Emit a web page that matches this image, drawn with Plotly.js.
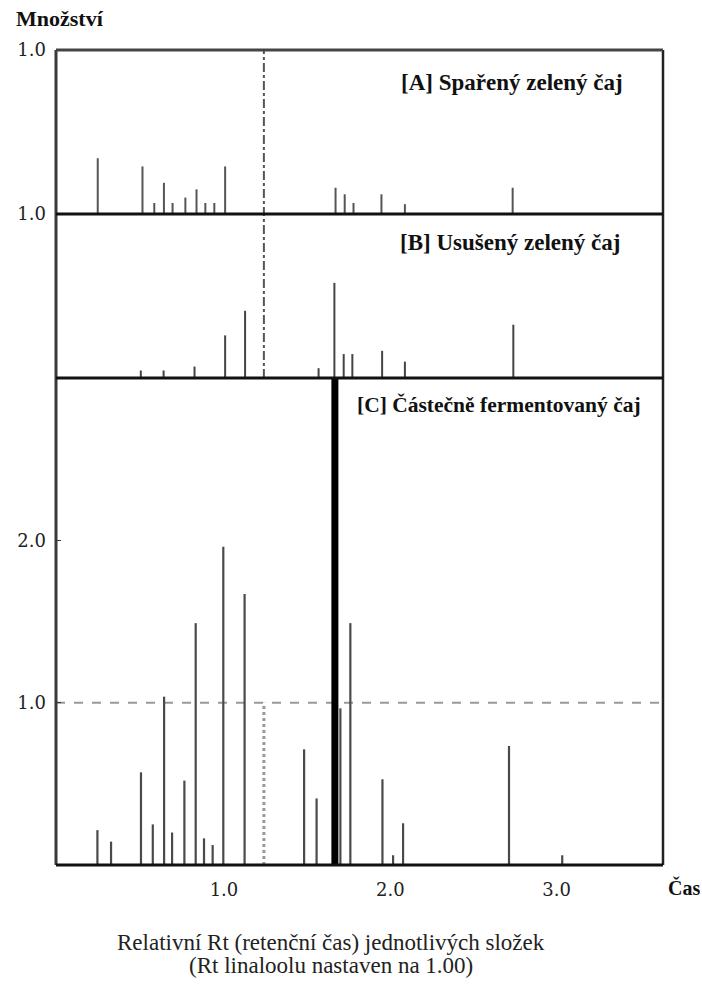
<!DOCTYPE html>
<html><head><meta charset="utf-8">
<script src="https://cdn.plot.ly/plotly-3.0.1.min.js"></script>
<style>html,body{margin:0;padding:0;background:#fff}#chart{width:702px;height:985px}</style>
</head><body><div id="chart"></div>
<script>
// Panel A: Spařený zelený čaj (relative Rt, relative amount)
const aRt = [0.241, 0.510, 0.581, 0.639, 0.691, 0.768, 0.835, 0.888, 0.942, 1.007, 1.671, 1.726, 1.779, 1.947, 2.088, 2.736];
const aAmt = [0.34, 0.29, 0.067, 0.19, 0.067, 0.10, 0.15, 0.067, 0.067, 0.29, 0.16, 0.12, 0.067, 0.12, 0.06, 0.16];
// Panel B: Usušený zelený čaj
const bRt = [0.500, 0.637, 0.823, 1.007, 1.127, 1.569, 1.664, 1.720, 1.772, 1.951, 2.088, 2.740];
const bAmt = [0.046, 0.046, 0.07, 0.26, 0.41, 0.06, 0.58, 0.146, 0.146, 0.166, 0.10, 0.325];
// Panel C: Částečně fermentovaný čaj
const cRt = [0.239, 0.321, 0.501, 0.572, 0.640, 0.688, 0.762, 0.830, 0.880, 0.932, 0.996, 1.124, 1.482, 1.557, 1.700, 1.760, 1.953, 2.017, 2.077, 2.714, 3.034];
const cAmt = [0.215, 0.144, 0.571, 0.25, 1.037, 0.2, 0.52, 1.49, 0.164, 0.123, 1.96, 1.67, 0.713, 0.41, 0.965, 1.49, 0.528, 0.06, 0.257, 0.733, 0.06];
// off-scale main peak in C
const cMainRt = [1.667];
const cMainAmt = [3.0];
// reference marks
const refRt = 1.24;      // dash-dot marker line
const refLevelC = 1.0;   // dashed level in C
// tick labels
const xTickVals = [1, 2, 3];
const xTickText = ['1.0', '2.0', '3.0'];
const cTickVals = [1, 2];
const cTickText = ['1.0', '2.0'];

function stems(xs, hs) {
  const x = [], y = [];
  xs.forEach((v, i) => { x.push(v, v, null); y.push(0, hs[i], null); });
  return { x, y };
}
const sA = stems(aRt, aAmt), sB = stems(bRt, bAmt), sC = stems(cRt, cAmt), sM = stems(cMainRt, cMainAmt);

const traces = [
  { x: sA.x, y: sA.y, xaxis: 'x', yaxis: 'y3', mode: 'lines', line: { color: '#555', width: 2 }, hoverinfo: 'skip' },
  { x: sB.x, y: sB.y, xaxis: 'x', yaxis: 'y2', mode: 'lines', line: { color: '#444', width: 2 }, hoverinfo: 'skip' },
  { x: sC.x, y: sC.y, xaxis: 'x', yaxis: 'y', mode: 'lines', line: { color: '#4a4a4a', width: 2.2 }, hoverinfo: 'skip' },
  { x: sM.x, y: sM.y, xaxis: 'x', yaxis: 'y', mode: 'lines', line: { color: '#000', width: 7 }, hoverinfo: 'skip' }
];

const dC = [0, 0.5975], dB = [0.5975, 0.7988], dA = [0.7988, 1];
const SERIF = '"Liberation Serif", "Times New Roman", Times, serif';
const tickFont = { family: '"DejaVu Serif", "Liberation Serif", serif', size: 18, color: '#222' };
const boldFont = (s) => ({ family: SERIF, size: s, color: '#111' });

const layout = {
  width: 702, height: 985,
  margin: { l: 56, r: 39, t: 50, b: 120 },
  paper_bgcolor: '#fff', plot_bgcolor: '#fff',
  showlegend: false,
  font: { family: SERIF },
  xaxis: { domain: [0, 1], range: [-0.01, 3.64], anchor: 'y', tickvals: xTickVals, ticktext: xTickText,
           ticks: '', showgrid: false, zeroline: false, showline: false, tickfont: tickFont, ticklabelstandoff: 12 },
  yaxis: { domain: dC, range: [0, 3], anchor: 'x', tickvals: cTickVals, ticktext: cTickText, ticks: 'inside', ticklen: 5,
           tickcolor: '#333', showgrid: false, zeroline: false, showline: false, tickfont: tickFont, ticklabelstandoff: 9 },
  yaxis2: { domain: dB, range: [0, 1], anchor: 'x', tickvals: [1], ticktext: ['1.0'], ticks: '', showgrid: false,
            zeroline: false, showline: false, tickfont: tickFont, ticklabelstandoff: 9 },
  yaxis3: { domain: dA, range: [0, 1], anchor: 'x', tickvals: [1], ticktext: ['1.0'], ticks: '', showgrid: false,
            zeroline: false, showline: false, tickfont: tickFont, ticklabelstandoff: 9 },
  shapes: [
    { type: 'line', xref: 'paper', yref: 'y', x0: 0, x1: 1, y0: refLevelC, y1: refLevelC, layer: 'below',
      line: { color: '#999', width: 2, dash: 'dash' } },
    { type: 'line', xref: 'x', yref: 'y', x0: refRt, x1: refRt, y0: 0, y1: refLevelC, layer: 'below',
      line: { color: '#999', width: 3, dash: 'dot' } },
    { type: 'line', xref: 'x', yref: 'paper', x0: refRt, x1: refRt, y0: dB[0], y1: dA[1],
      line: { color: '#555', width: 2, dash: 'dashdot' } },
    { type: 'line', xref: 'paper', yref: 'paper', x0: 0, x1: 0, y0: 0, y1: 1, line: { color: '#3a3a3a', width: 3 } },
    { type: 'line', xref: 'paper', yref: 'paper', x0: 1, x1: 1, y0: 0, y1: 1, line: { color: '#222', width: 2.5 } },
    { type: 'line', xref: 'paper', yref: 'paper', x0: 0, x1: 1, y0: 1, y1: 1, line: { color: '#444', width: 3 } },
    { type: 'line', xref: 'paper', yref: 'paper', x0: 0, x1: 1, y0: dA[0], y1: dA[0], line: { color: '#111', width: 3 } },
    { type: 'line', xref: 'paper', yref: 'paper', x0: 0, x1: 1, y0: dB[0], y1: dB[0], line: { color: '#111', width: 3 } },
    { type: 'line', xref: 'paper', yref: 'paper', x0: 0, x1: 1, y0: 0, y1: 0, line: { color: '#111', width: 3 } }
  ],
  annotations: [
    { text: '<b>Množství</b>', xref: 'paper', yref: 'paper', x: -0.07, y: 1.039, xanchor: 'left', yanchor: 'middle',
      showarrow: false, font: boldFont(22) },
    { text: '<b>[A] Spařený zelený čaj</b>', xref: 'paper', yref: 'paper', x: 0.9374, y: 0.9607, xanchor: 'right', yanchor: 'middle',
      showarrow: false, font: boldFont(23) },
    { text: '<b>[B] Usušený zelený čaj</b>', xref: 'paper', yref: 'paper', x: 0.9325, y: 0.7632, xanchor: 'right', yanchor: 'middle',
      showarrow: false, font: boldFont(23) },
    { text: '<b>[C] Částečně fermentovaný čaj</b>', xref: 'paper', yref: 'paper', x: 0.967, y: 0.5644, xanchor: 'right', yanchor: 'middle',
      showarrow: false, font: boldFont(21.5) },
    { text: '<b>Čas</b>', xref: 'paper', yref: 'paper', x: 1.005, y: -0.028, xanchor: 'left', yanchor: 'middle',
      showarrow: false, font: boldFont(20) },
    { text: 'Relativní Rt (retenční čas) jednotlivých složek', xref: 'paper', yref: 'paper', x: 0.453, y: -0.0945,
      xanchor: 'center', yanchor: 'middle', showarrow: false, font: { family: SERIF, size: 23, color: '#222' } },
    { text: '(Rt linaloolu nastaven na 1.00)', xref: 'paper', yref: 'paper', x: 0.453, y: -0.1235,
      xanchor: 'center', yanchor: 'middle', showarrow: false, font: { family: SERIF, size: 23, color: '#222' } }
  ]
};

Plotly.newPlot('chart', traces, layout, { staticPlot: true, displayModeBar: false });
</script>
</body></html>
